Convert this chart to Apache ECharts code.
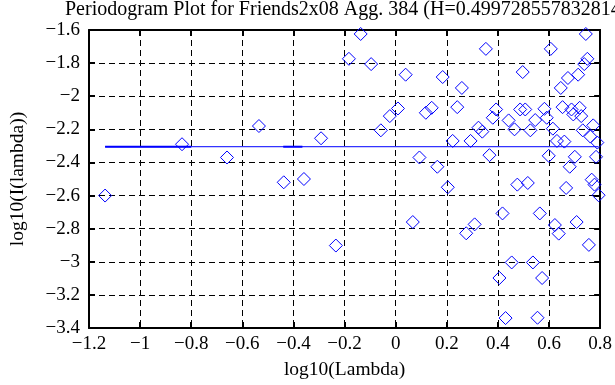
<!DOCTYPE html>
<html><head><meta charset="utf-8">
<script src="https://cdn.jsdelivr.net/npm/echarts@6/dist/echarts.min.js"></script>
<style>html,body{margin:0;padding:0;background:#fff}#c{width:615px;height:385px}</style>
</head><body><div id="c"></div>
<script>
const titleText = 'Periodogram Plot for Friends2x08 Agg. 384 (H=0.499728557832814)';
const xName = 'log10(Lambda)';
const yName = 'log10(I(lambda))';

const logLambda = [
 -1.137, -0.836, -0.660, -0.535, -0.438, -0.359, -0.292, -0.234, -0.183, -0.137,
 -0.096, -0.058, -0.023, 0.009, 0.039, 0.067, 0.093, 0.118, 0.141, 0.163,
 0.184, 0.204, 0.223, 0.241, 0.259, 0.276, 0.293, 0.309, 0.324, 0.339,
 0.353, 0.367, 0.380, 0.393, 0.406, 0.418, 0.430, 0.442, 0.454, 0.465,
 0.476, 0.487, 0.497, 0.507, 0.517, 0.527, 0.537, 0.546, 0.555, 0.564,
 0.573, 0.582, 0.591, 0.599, 0.607, 0.615, 0.623, 0.631, 0.638, 0.646,
 0.653, 0.660, 0.667, 0.674, 0.681, 0.688, 0.695, 0.701, 0.708, 0.714,
 0.720, 0.726, 0.732, 0.738, 0.744, 0.750, 0.756, 0.762, 0.767, 0.773,
 0.778, 0.784, 0.789, 0.794
];
const logI = [
 -2.600, -2.290, -2.370, -2.180, -2.520, -2.500, -2.254, -2.902, -1.774, -1.624,
 -1.806, -2.206, -2.120, -2.074, -1.870, -2.760, -2.370, -2.100, -2.070, -2.426,
 -1.884, -2.550, -2.270, -2.066, -1.950, -2.828, -2.270, -2.774, -2.190, -2.214,
 -1.714, -2.356, -2.130, -2.080, -3.098, -2.708, -3.340, -2.146, -3.004, -2.200,
 -2.534, -2.080, -1.854, -2.080, -2.524, -2.206, -3.004, -2.144, -3.338, -2.708,
 -3.098, -2.076, -2.130, -2.360, -1.714, -2.196, -2.778, -2.270, -2.830, -1.950,
 -2.066, -2.274, -2.554, -1.890, -2.426, -2.080, -2.110, -2.366, -2.760, -1.870,
 -2.070, -2.120, -2.206, -1.806, -1.624, -1.774, -2.898, -2.244, -2.504, -2.176,
 -2.534, -2.366, -2.280, -2.598
];

// fitted line (nearly flat) and its heavier-drawn stretches
const fitX = [-1.137, 0.794];
const fitY = [-2.305, -2.305];
const heavyFitA = [-1.137, -0.800];
const heavyFitB = [-0.440, -0.365];

const xTickValues = [-1.2, -1, -0.8, -0.6, -0.4, -0.2, 0, 0.2, 0.4, 0.6, 0.8];
const xTickLabels = ['\u22121.2', '\u22121', '\u22120.8', '\u22120.6', '\u22120.4', '\u22120.2', '0', '0.2', '0.4', '0.6', '0.8'];
const yTickValues = [-3.4, -3.2, -3, -2.8, -2.6, -2.4, -2.2, -2, -1.8, -1.6];
const yTickLabels = ['\u22123.4', '\u22123.2', '\u22123', '\u22122.8', '\u22122.6', '\u22122.4', '\u22122.2', '\u22122', '\u22121.8', '\u22121.6'];

function lookup(vals, labels) {
  return function (v) {
    for (let i = 0; i < vals.length; i++) if (Math.abs(vals[i] - v) < 1e-6) return labels[i];
    return '';
  };
}

const FONT = 'Liberation Serif';
const BLUE = '#0000ff';
const axisLine = { onZero: false, lineStyle: { color: '#000', width: 2 } };
const axisTick = { inside: true, length: 6, lineStyle: { color: '#000', width: 2 } };
const grid = { color: '#000', width: 1, type: [6, 4] };

const chart = echarts.init(document.getElementById('c'), null, { renderer: 'canvas' });
chart.setOption({
  animation: false,
  backgroundColor: '#fff',
  title: {
    text: titleText, left: 65, top: 0, padding: 0,
    textStyle: { fontFamily: FONT, fontSize: 20, fontWeight: 'normal', color: '#000' }
  },
  grid: { left: 81, right: 6, top: 30, bottom: 55, containLabel: false },
  xAxis: [
    {
      type: 'value', position: 'bottom', min: -1.2, max: 0.8, interval: 0.2,
      name: xName, nameLocation: 'middle', nameGap: 32,
      nameTextStyle: { fontFamily: FONT, fontSize: 19.5, color: '#000' },
      axisLine: axisLine, axisTick: axisTick,
      axisLabel: { fontFamily: FONT, fontSize: 19, color: '#000', margin: 7, formatter: lookup(xTickValues, xTickLabels), showMinLabel: true, showMaxLabel: true },
      splitLine: { show: true, lineStyle: grid }
    },
    {
      type: 'value', position: 'top', min: -1.2, max: 0.8, interval: 0.2,
      axisLine: axisLine, axisTick: axisTick, axisLabel: { show: false }, splitLine: { show: false }
    }
  ],
  yAxis: [
    {
      type: 'value', position: 'left', min: -3.4, max: -1.6, interval: 0.2,
      name: yName, nameLocation: 'middle', nameGap: 61, nameRotate: 90,
      nameTextStyle: { fontFamily: FONT, fontSize: 19.5, color: '#000' },
      axisLine: axisLine, axisTick: axisTick,
      axisLabel: { fontFamily: FONT, fontSize: 19, color: '#000', margin: 9, formatter: lookup(yTickValues, yTickLabels), showMinLabel: true, showMaxLabel: true },
      splitLine: { show: true, lineStyle: grid }
    },
    {
      type: 'value', position: 'right', min: -3.4, max: -1.6, interval: 0.2,
      axisLine: axisLine, axisTick: axisTick, axisLabel: { show: false }, splitLine: { show: false }
    }
  ],
  series: [
    {
      type: 'scatter', xAxisIndex: 0, yAxisIndex: 0,
      symbol: 'diamond', symbolSize: 13,
      itemStyle: { color: 'rgba(0,0,0,0)', borderColor: BLUE, borderWidth: 1, opacity: 1 },
      data: logLambda.map((x, i) => [x, logI[i]]),
      silent: true, z: 3
    },
    {
      type: 'line', xAxisIndex: 0, yAxisIndex: 0, symbol: 'none',
      lineStyle: { color: BLUE, width: 1 },
      data: fitX.map((x, i) => [x, fitY[i]]), silent: true, z: 2
    },
    {
      type: 'line', xAxisIndex: 0, yAxisIndex: 0, symbol: 'none',
      lineStyle: { color: BLUE, width: 2 },
      data: heavyFitA.map(x => [x, fitY[0]]), silent: true, z: 2
    },
    {
      type: 'line', xAxisIndex: 0, yAxisIndex: 0, symbol: 'none',
      lineStyle: { color: BLUE, width: 2 },
      data: heavyFitB.map(x => [x, fitY[0]]), silent: true, z: 2
    }
  ]
});
</script>
</body></html>
